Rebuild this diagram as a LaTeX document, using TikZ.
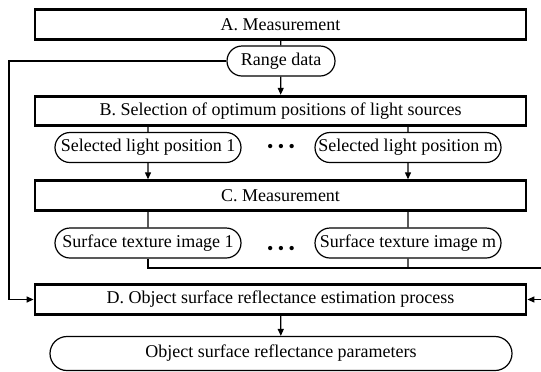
\documentclass[tikz,border=0pt]{standalone}
\usepackage{fontspec}
\setmainfont{Liberation Serif}
\usetikzlibrary{shapes.misc, arrows.meta, positioning}

\begin{document}
\begin{tikzpicture}[
        x=0.5pt, y=-0.5pt,
        font=\fontsize{9}{11}\selectfont,
        stage/.style={draw, rectangle, line width=1.4pt, minimum width=245.5pt, minimum height=14.8pt, inner sep=0pt},
        data/.style={draw, rounded rectangle, line width=0.6pt, minimum height=15pt, inner xsep=1pt, inner ysep=0pt},
        line/.style={line width=0.6pt},
        arr/.style={-{Triangle[length=3.5pt, width=3pt]}, line width=0.6pt}
    ]
        \clip (0,0) rectangle (541,371);

        \node[stage] (measA) at (280.5,24.5) {A. Measurement};
        \node[data, minimum width=56pt] (range) at (281,61) {Range data};
        \node[stage] (select) at (280.5,111) {B. Selection of optimum positions of light sources};
        \node[data, minimum width=95pt] (pos1) at (148,147.5) {Selected light position 1};
        \node (dotsB) at (281,148) {• • •};
        \node[data, minimum width=95pt] (posm) at (408,147.5) {Selected light position m};
        \node[stage] (measC) at (280.5,195.5) {C. Measurement};
        \node[data, minimum width=95pt] (tex1) at (148,243) {Surface texture image 1};
        \node (dotsC) at (281,250) {• • •};
        \node[data, minimum width=95pt] (texm) at (408,243) {Surface texture image m};
        \node[stage] (estim) at (280.5,299.5) {D. Object surface reflectance estimation process};
        \node[data, minimum width=233pt, minimum height=17pt] (params) at (281,353.5) {Object surface reflectance parameters};

        \coordinate (feed) at (9,61);
        \coordinate (bus) at (548,268);

        \draw[line] (measA) -- (range);
        \draw[arr] (range) -- (select);
        \draw[arr] (range) -- (feed) |- (estim.west);

        \draw[line] (select.south -| pos1) -- (pos1);
        \draw[line] (select.south -| posm) -- (posm);
        \draw[arr] (pos1) -- (measC.north -| pos1);
        \draw[arr] (posm) -- (measC.north -| posm);

        \draw[line] (measC.south -| tex1) -- (tex1);
        \draw[line] (measC.south -| texm) -- (texm);
        \draw[line] (texm) -- (texm |- bus);
        \draw[arr] (tex1) |- (bus) |- (estim.east);

        \draw[arr] (estim) -- (params);
    \end{tikzpicture}
\end{document}
